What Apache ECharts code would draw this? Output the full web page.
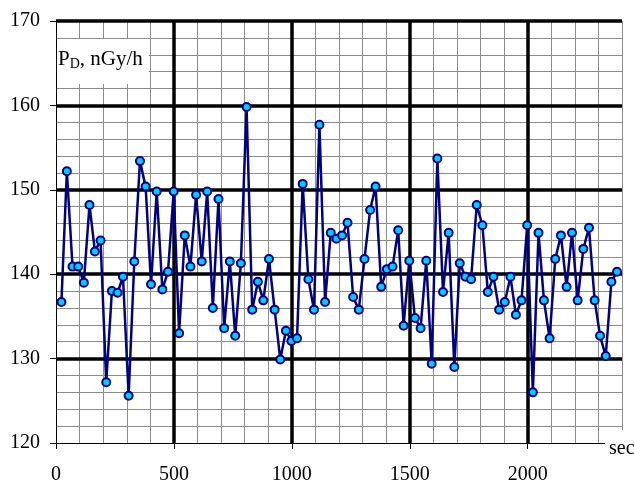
<!DOCTYPE html>
<html>
<head>
<meta charset="utf-8">
<script src="https://cdn.jsdelivr.net/npm/echarts@6/dist/echarts.min.js"></script>
<style>
  html, body { margin:0; padding:0; background:#fff; }
  #chart { width:634px; height:485px; }
</style>
</head>
<body>
<div id="chart"></div>
<script>
// sample times, sec
const times = [
  23, 46, 70, 94, 118, 142, 165, 189, 213, 237,
  261, 284, 308, 332, 356, 380, 403, 427, 451, 475,
  499, 522, 546, 570, 594, 618, 641, 665, 689, 713,
  737, 760, 784, 808, 832, 856, 879, 903, 927, 951,
  975, 998, 1022, 1046, 1070, 1094, 1117, 1141, 1165, 1189,
  1213, 1236, 1260, 1284, 1308, 1332, 1355, 1379, 1403, 1427,
  1451, 1474, 1498, 1522, 1546, 1570, 1593, 1617, 1641, 1665,
  1689, 1712, 1736, 1760, 1784, 1808, 1831, 1855, 1879, 1903,
  1927, 1950, 1974, 1998, 2022, 2046, 2069, 2093, 2117, 2141,
  2165, 2188, 2212, 2236, 2260, 2284, 2307, 2331, 2355, 2379
];

// dose rate P_D, nGy/h
const doseRate = [
  136.7, 152.2, 140.9, 140.9, 139.0, 148.2, 142.7, 144.0, 127.2, 138.0,
  137.8, 139.7, 125.6, 141.5, 153.4, 150.4, 138.8, 149.8, 138.2, 140.3,
  149.8, 133.0, 144.6, 140.9, 149.4, 141.5, 149.8, 136.0, 148.9, 133.6,
  141.5, 132.7, 141.3, 159.8, 135.8, 139.1, 136.9, 141.8, 135.8, 129.9,
  133.3, 132.1, 132.4, 150.7, 139.4, 135.8, 157.7, 136.7, 144.9, 144.2,
  144.6, 146.1, 137.3, 135.8, 141.8, 147.6, 150.4, 138.5, 140.6, 140.9,
  145.2, 133.9, 141.6, 134.8, 133.6, 141.6, 129.4, 153.7, 137.9, 144.9,
  129.0, 141.3, 139.7, 139.4, 148.2, 145.8, 137.9, 139.7, 135.8, 136.7,
  139.7, 135.2, 136.9, 145.8, 126.0, 144.9, 136.9, 132.4, 141.8, 144.6,
  138.5, 144.9, 136.9, 143.0, 145.5, 136.9, 132.7, 130.3, 139.1, 140.3
];

const xRange = [0, 2400];
const yRange = [120, 170];

const FONT = '"Liberation Serif", "DejaVu Serif", serif';

const chart = echarts.init(document.getElementById('chart'), null, {renderer:'canvas'});

const minorLine = { show:true, lineStyle:{ color:'#8c8c8c', width:1 } };
const majorLine = { show:true, showMinLine:false, lineStyle:{ color:'#000', width:3.5 } };

chart.setOption({
  animation: false,
  backgroundColor: '#fff',
  grid: { left:56, top:21, right:12, bottom:40.5, containLabel:false },
  xAxis: [
    {
      type:'value', min:xRange[0], max:xRange[1], interval:500, position:'bottom', z:1,
      axisLine:{ show:true, onZero:false, lineStyle:{ color:'#000', width:1 } },
      axisTick:{ show:true, inside:false, length:6, lineStyle:{ color:'#000', width:1 } },
      axisLabel:{ show:true, showMaxLabel:false, margin:22, color:'#000', fontFamily:FONT, fontSize:20,
        formatter: v => String(v) },
      splitLine:{ ...majorLine, showMaxLine:false }
    },
    {
      type:'value', min:xRange[0], max:xRange[1], interval:100, position:'bottom', z:0,
      axisLine:{ show:false }, axisTick:{ show:false }, axisLabel:{ show:false },
      splitLine: minorLine
    }
  ],
  yAxis: [
    {
      type:'value', min:yRange[0], max:yRange[1], interval:10, position:'left', z:1,
      axisLine:{ show:true, onZero:false, lineStyle:{ color:'#000', width:1 } },
      axisTick:{ show:true, inside:false, length:6, lineStyle:{ color:'#000', width:1 } },
      axisLabel:{ show:true, margin:16, color:'#000', fontFamily:FONT, fontSize:20 },
      splitLine: majorLine
    },
    {
      type:'value', min:yRange[0], max:yRange[1], interval:2, position:'left', z:0,
      axisLine:{ show:false }, axisTick:{ show:false }, axisLabel:{ show:false },
      splitLine: minorLine
    }
  ],
  graphic: [
    {
      type:'text', left:57, top:39, z:10,
      style:{
        text:'{p|P}{s|D}{p|, nGy/h}',
        backgroundColor:'#fff', padding:[9,6,13,1],
        rich:{
          p:{ fontFamily:FONT, fontSize:21, fill:'#000', color:'#000' },
          s:{ fontFamily:FONT, fontSize:14, fill:'#000', color:'#000', verticalAlign:'bottom', padding:[9,0,0,0] }
        }
      }
    },
    {
      type:'text', left:605, top:430, z:10,
      style:{
        text:'sec', fontFamily:FONT, fontSize:20, fill:'#000',
        backgroundColor:'#fff', padding:[9,4,1,4]
      }
    }
  ],
  series: [{
    type:'line',
    xAxisIndex:0, yAxisIndex:0,
    data: times.map((t, i) => [t, doseRate[i]]),
    symbol:'circle', symbolSize:8,
    lineStyle:{ color:'#000080', width:2.5 },
    itemStyle:{ color:'#00ccff', borderColor:'#000080', borderWidth:2 },
    z:5
  }]
});
</script>
</body>
</html>
